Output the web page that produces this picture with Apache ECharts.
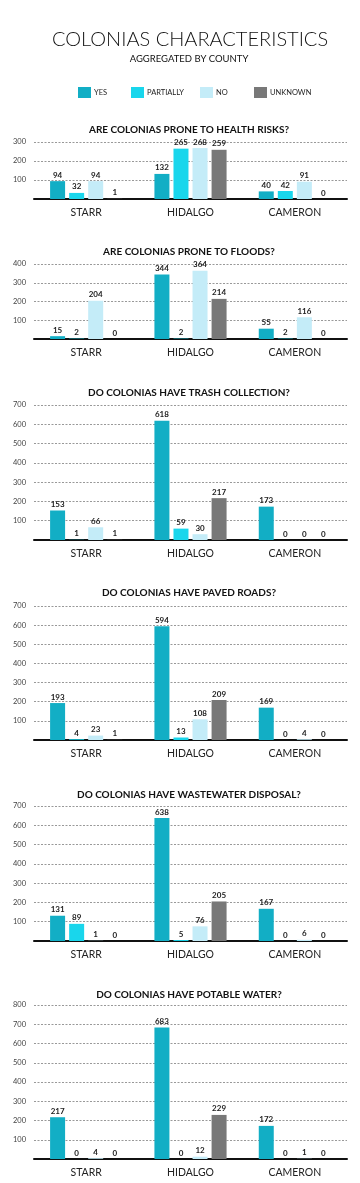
<!DOCTYPE html>
<html>
<head>
<meta charset="utf-8">
<script src="https://cdn.jsdelivr.net/npm/echarts@6/dist/echarts.min.js"></script>
<style>
html,body{margin:0;padding:0;background:#fff;}
#chart{width:360px;height:1183px;}
</style>
</head>
<body>
<div id="chart"></div>
<script>
// ---- data ----
var counties = ['STARR', 'HIDALGO', 'CAMERON'];
var answers = ['YES', 'PARTIALLY', 'NO', 'UNKNOWN'];
var questions = [
  'ARE COLONIAS PRONE TO HEALTH RISKS?',
  'ARE COLONIAS PRONE TO FLOODS?',
  'DO COLONIAS HAVE TRASH COLLECTION?',
  'DO COLONIAS HAVE PAVED ROADS?',
  'DO COLONIAS HAVE WASTEWATER DISPOSAL?',
  'DO COLONIAS HAVE POTABLE WATER?'
];
var axisMax = [300, 400, 700, 700, 700, 800];
// values per question: [YES, PARTIALLY, NO, UNKNOWN], each across counties
var healthYes = [94, 132, 40];
var healthPartial = [32, 265, 42];
var healthNo = [94, 268, 91];
var healthUnknown = [1, 259, 0];

var floodsYes = [15, 344, 55];
var floodsPartial = [2, 2, 2];
var floodsNo = [204, 364, 116];
var floodsUnknown = [0, 214, 0];

var trashYes = [153, 618, 173];
var trashPartial = [1, 59, 0];
var trashNo = [66, 30, 0];
var trashUnknown = [1, 217, 0];

var pavedYes = [193, 594, 169];
var pavedPartial = [4, 13, 0];
var pavedNo = [23, 108, 4];
var pavedUnknown = [1, 209, 0];

var wasteYes = [131, 638, 167];
var wastePartial = [89, 5, 0];
var wasteNo = [1, 76, 6];
var wasteUnknown = [0, 205, 0];

var potableYes = [217, 683, 172];
var potablePartial = [0, 0, 0];
var potableNo = [4, 12, 1];
var potableUnknown = [0, 229, 0];

var panelData = [
  [healthYes, healthPartial, healthNo, healthUnknown],
  [floodsYes, floodsPartial, floodsNo, floodsUnknown],
  [trashYes, trashPartial, trashNo, trashUnknown],
  [pavedYes, pavedPartial, pavedNo, pavedUnknown],
  [wasteYes, wastePartial, wasteNo, wasteUnknown],
  [potableYes, potablePartial, potableNo, potableUnknown]
];

// ---- layout / style ----
var colors = ['#12aec5', '#19d6ec', '#c4ecf8', '#787878'];
var gridTops = [142, 264, 405, 606, 806, 1005];
var gridBottoms = [199, 339, 540, 740, 941, 1159];
var titleTops = [120, 242, 383, 583, 785, 985];
var legendLefts = [73, 126, 195, 249];
var FONT = 'Lato, "Open Sans", sans-serif';

var grids = [], xAxes = [], yAxes = [], series = [], titles = [], legends = [];

titles.push({
  text: 'COLONIAS CHARACTERISTICS',
  left: 185, top: 25, textAlign: 'center',
  textStyle: {fontFamily: FONT, fontSize: 20, fontWeight: 300, color: '#111'}
});
titles.push({
  text: 'AGGREGATED BY COUNTY',
  left: 184, top: 49, textAlign: 'center',
  textStyle: {fontFamily: FONT, fontSize: 9.5, fontWeight: 'normal', color: '#111'}
});

answers.forEach(function (a, i) {
  legends.push({
    data: [a], left: legendLefts[i], top: 82,
    itemWidth: 13, itemHeight: 11, itemGap: 3,
    icon: 'rect',
    textStyle: {fontFamily: FONT, fontSize: 7.5, color: '#222', padding: [0, 0, 0, -2]}
  });
});

questions.forEach(function (q, p) {
  titles.push({
    text: q, left: 184, top: titleTops[p], textAlign: 'center',
    textStyle: {fontFamily: FONT, fontSize: 10, fontWeight: 'bold', color: '#111'}
  });
  grids.push({left: 34, right: 13, top: gridTops[p], height: gridBottoms[p] - gridTops[p]});
  xAxes.push({
    type: 'category', gridIndex: p, data: counties,
    axisLine: {lineStyle: {color: '#111', width: 2}},
    axisTick: {show: false},
    axisLabel: {fontFamily: FONT, fontSize: 10.5, color: '#222', margin: 8}
  });
  yAxes.push({
    type: 'value', gridIndex: p, min: 0, max: axisMax[p], interval: 100,
    axisLine: {show: false}, axisTick: {show: false},
    axisLabel: {
      fontFamily: FONT, fontSize: 7.5, color: '#444', margin: 8,
      formatter: function (v) { return v === 0 ? '' : String(v); }
    },
    splitLine: {lineStyle: {color: '#999', width: 1, type: [2, 1.5]}}
  });
  answers.forEach(function (a, i) {
    series.push({
      type: 'bar', name: a, xAxisIndex: p, yAxisIndex: p,
      data: panelData[p][i],
      barWidth: 15, barGap: '27%',
      itemStyle: {color: colors[i]},
      label: {
        show: true, position: 'top', distance: 2,
        fontFamily: FONT, fontSize: 8, fontWeight: 'bold', color: '#222'
      },
      animation: false
    });
  });
});

var chart = echarts.init(document.getElementById('chart'));
chart.setOption({
  backgroundColor: '#fff',
  color: colors,
  animation: false,
  title: titles,
  legend: legends,
  grid: grids,
  xAxis: xAxes,
  yAxis: yAxes,
  series: series
});
</script>
</body>
</html>
